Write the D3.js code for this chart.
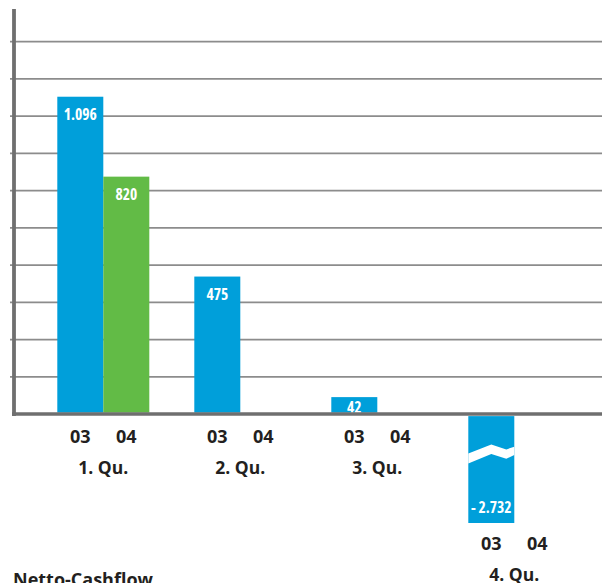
<!DOCTYPE html>
<html>
<head>
<meta charset="utf-8">
<script src="https://cdn.jsdelivr.net/npm/d3@7"></script>
<style>
  html, body { margin: 0; padding: 0; background: #fff; }
  svg { display: block; }
  .val { font-family: "Open Sans", sans-serif; font-weight: 700; font-size: 15.5px; fill: #fff; font-stretch: condensed; }
  .lbl { font-family: "Open Sans", sans-serif; font-weight: 700; fill: #231f20; }
</style>
</head>
<body>
<svg id="chart" width="602" height="583"></svg>
<script>
// Quarterly net cash flow, 2003 vs 2004 (EUR thousands)
const quarters = ["1. Qu.", "2. Qu.", "3. Qu.", "4. Qu."];
const years = ["03", "04"];
const values03 = [1096, 475, 42, -2732];
const values04 = [820, null, null, null];
const valueLabels03 = ["1.096", "475", "42", "- 2.732"];
const valueLabels04 = ["820", "", "", ""];
const title = "Netto-Cashflow";

const colors = { "03": "#009fda", "04": "#62bb46" };
const gridCount = 10;

const svg = d3.select("#chart");
const W = 602;

// value scale; the large negative bar is cut off (clamped) and marked with a break
const y = d3.scaleLinear().domain([-376, 1286]).range([523, 41.7]).clamp(true);
const y0 = y(0);

// quarter groups and year bars inside each group
const x0 = d3.scaleBand().domain(quarters).range([57.3, 57.3 + 4 * 137]).paddingInner(0).paddingOuter(0);
const x1 = d3.scaleBand().domain(years).range([0, 92]);

// horizontal grid
const gridVals = d3.range(1, gridCount + 1).map(i => i * 1286 / gridCount);
svg.append("g").selectAll("line").data(gridVals).join("line")
  .attr("x1", 10).attr("x2", W)
  .attr("y1", d => y(d)).attr("y2", d => y(d))
  .attr("stroke", "#8c8c8c").attr("stroke-width", 1.8);

// bars
const rows = [];
quarters.forEach((q, i) => {
  [[ "03", values03[i], valueLabels03[i] ], [ "04", values04[i], valueLabels04[i] ]].forEach(([yr, v, lab]) => {
    if (v !== null) rows.push({ q, yr, v, lab });
  });
});

const minH = 15;
function barTop(d) {
  if (d.v >= 0) return Math.min(y(d.v), y0 - 2 - minH);
  return y0 + 2;
}
function barBottom(d) {
  if (d.v >= 0) return y0 - 1.5;
  return y(d.v);
}

const bars = svg.append("g");
bars.selectAll("rect").data(rows).join("rect")
  .attr("x", d => x0(d.q) + x1(d.yr))
  .attr("width", x1.bandwidth())
  .attr("y", d => barTop(d))
  .attr("height", d => barBottom(d) - barTop(d))
  .attr("fill", d => colors[d.yr]);

// break mark (white zigzag band) on bars cut off by the clamped scale
const clipped = rows.filter(d => y(d.v) === y.range()[0]);
clipped.forEach(d => {
  const bx = x0(d.q) + x1(d.yr), bw = x1.bandwidth();
  const top = barTop(d);
  const upper = [[0, 37.3], [23, 28.3], [38, 33.3], [bw, 30.7]];
  const lower = [[bw, 39], [38, 42.7], [23, 38], [0, 47.3]];
  const pts = upper.concat(lower).map(p => [bx + p[0], top + p[1]]);
  bars.append("path")
    .attr("d", d3.line()(pts) + "Z")
    .attr("fill", "#fff");
});

// value labels inside the bars
bars.selectAll("text").data(rows).join("text")
  .attr("class", "val")
  .attr("text-anchor", "middle")
  .attr("x", d => x0(d.q) + x1(d.yr) + x1.bandwidth() / 2)
  .attr("y", d => {
    if (d.v < 0) return barBottom(d) - 10.5;
    const t = barTop(d), b = barBottom(d);
    return Math.min(t + 23, b);
  })
  .text(d => d.lab);

// axes
svg.append("line").attr("x1", 14).attr("x2", 14).attr("y1", 9).attr("y2", y0 + 2)
  .attr("stroke", "#6f6f6f").attr("stroke-width", 3.8);
svg.append("line").attr("x1", 12).attr("x2", W).attr("y1", y0).attr("y2", y0)
  .attr("stroke", "#6f6f6f").attr("stroke-width", 3.5);

// category labels (below the baseline, or below a negative bar)
const labels = svg.append("g");
quarters.forEach((q, i) => {
  const low = Math.max(y0 + 2, ...rows.filter(r => r.q === q).map(r => r.v < 0 ? barBottom(r) : 0));
  years.forEach(yr => {
    labels.append("text").attr("class", "lbl")
      .attr("font-size", 18).attr("text-anchor", "middle")
      .attr("x", x0(q) + x1(yr) + x1.bandwidth() / 2)
      .attr("y", low + 27)
      .text(yr);
  });
  labels.append("text").attr("class", "lbl")
    .attr("font-size", 17.5).attr("text-anchor", "middle")
    .attr("x", x0(q) + x1.bandwidth())
    .attr("y", low + 57.5)
    .text(q);
});

// title
svg.append("text").attr("class", "lbl")
  .attr("font-size", 18)
  .attr("x", 13).attr("y", 586)
  .text(title);
</script>
</body>
</html>
